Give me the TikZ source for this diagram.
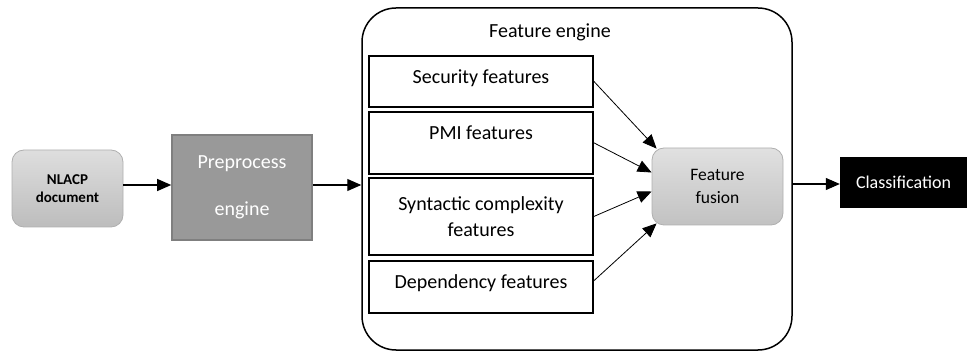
\documentclass[tikz,border=0pt]{standalone}
\usepackage{fontspec}
\setmainfont{Carlito}
\usetikzlibrary{arrows.meta}
\usetikzlibrary{calc}
\definecolor{boxgray}{HTML}{999999}
\definecolor{boxedge}{HTML}{7F7F7F}
\definecolor{softedge}{HTML}{AFAFAF}
\begin{document}
\begin{tikzpicture}[x=1pt,y=-1pt,
  arr/.style={-{Triangle[length=14pt,width=12pt]},line width=1.1pt},
  farr/.style={-{Triangle[length=14pt,width=12pt]},line width=0.8pt},
  featbox/.style={draw,line width=1.6pt,minimum width=224pt,align=center,
    font=\fontsize{20}{26}\selectfont},
  featline/.style={featbox,inner sep=0pt,text height=28pt,text depth=#1}]
  \useasboundingbox (0,0) rectangle (967,358);
  \node[draw=softedge,line width=0.8pt,rounded corners=12pt,top color=black!13,bottom color=black!26,
    minimum width=111pt,minimum height=77pt,align=center,
    font=\fontsize{15}{18}\selectfont\bfseries] (nlacp) at (67.5,188.5) {NLACP\\document};
  \node[draw=boxedge,line width=1.6pt,fill=boxgray,text=white,
    minimum width=140pt,minimum height=105pt,align=center,
    font=\fontsize{20}{47}\selectfont] (prep) at (242,187.5) {Preprocess\\engine};
  \node[draw,line width=1.5pt,rounded corners=34pt,minimum width=430pt,minimum height=342pt] (engine) at (577,179) {};
  \node[font=\fontsize{20}{24}\selectfont] (englabel) at (550,32) {Feature engine};
  \node[featline=23pt,anchor=north] (sec) at (481,55) {Security features};
  \node[featline=34pt,anchor=north] (pmi) at (481,111) {PMI features};
  \node[featbox,minimum height=77pt,inner sep=0pt] (syn) at (481,216.5) {Syntactic complexity\\features};
  \node[featline=24pt,anchor=north] (dep) at (481,260) {Dependency features};
  \node[draw=softedge,line width=0.8pt,rounded corners=12pt,top color=black!12,bottom color=black!24,
    minimum width=131pt,minimum height=77pt,align=center,
    font=\fontsize{17.5}{23}\selectfont] (fus) at (717.5,186.5) {Feature\\fusion};
  \node[fill=black,text=white,minimum width=127pt,minimum height=51pt,
    font=\fontsize{18}{22}\selectfont] (cls) at (903.5,182.5) {Classification};

  \draw[arr] (nlacp.east |- 0,185) -- (prep.west |- 0,185);
  \draw[arr] (prep.east |- 0,185) -- (engine.west |- 0,185);
  \draw[arr] (engine.east |- 0,184) -- (cls.west |- 0,184);
  \draw[farr] (sec.east) -- ($(fus.north west)+(5,1)$);
  \draw[farr] (pmi.east) -- ($(fus.west)+(0,-14)$);
  \draw[farr] (syn.east) -- ($(fus.west)+(0,5)$);
  \draw[farr] ($(dep.east)+(0,-6)$) -- ($(fus.south west)+(5,-2)$);
\end{tikzpicture}
\end{document}
